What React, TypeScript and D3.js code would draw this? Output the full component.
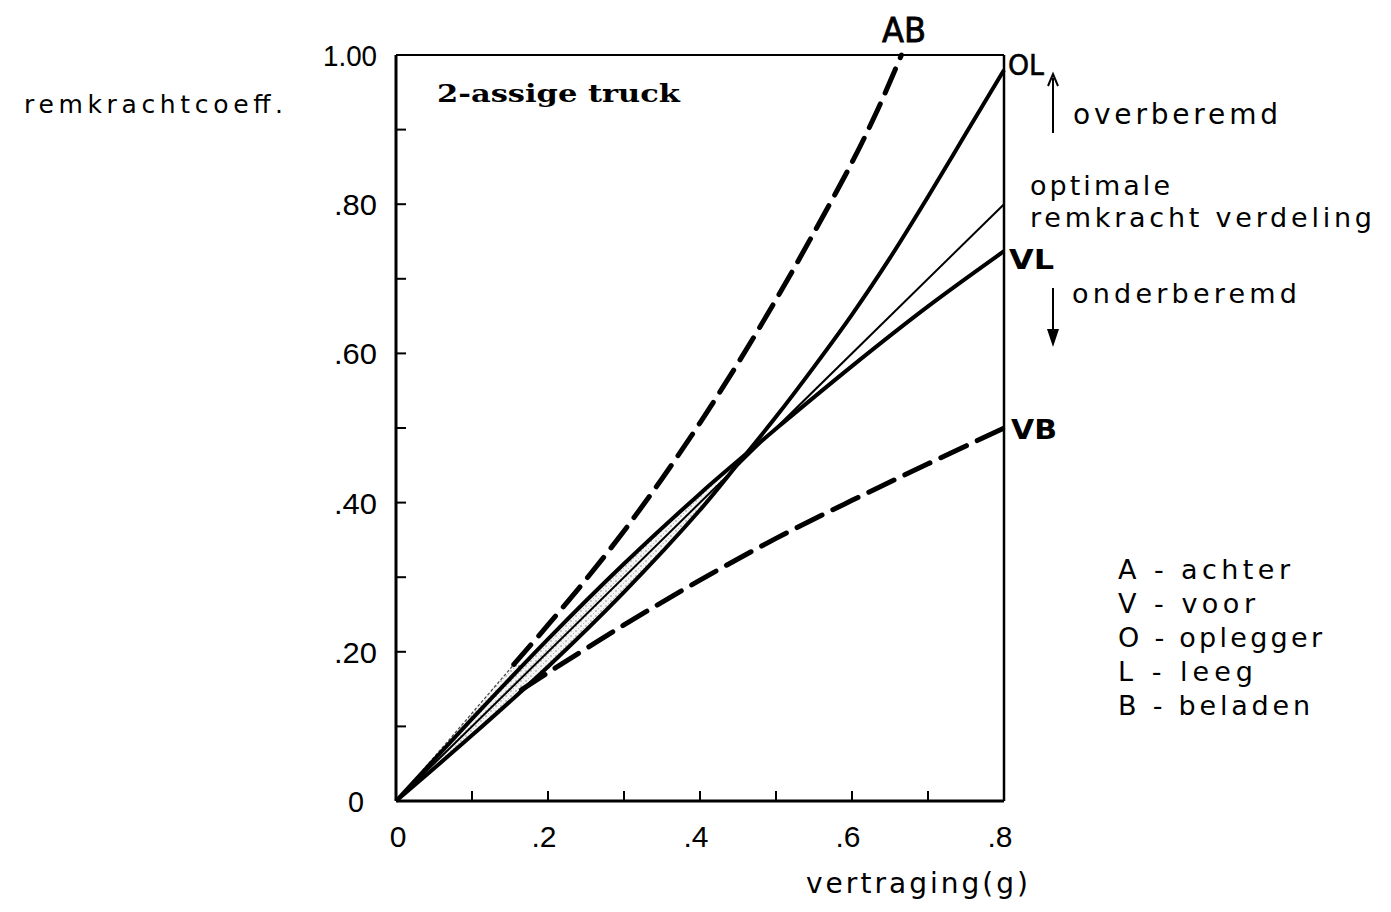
import React from "react";
import * as d3 from "d3";

// Braking-force coefficient versus deceleration for a two-axle truck
const xTicks = [0, 0.2, 0.4, 0.6, 0.8];
const xTickLabels = ["0", ".2", ".4", ".6", ".8"];
const yTicks = [0, 0.2, 0.4, 0.6, 0.8, 1.0];
const yTickLabels = ["0", ".20", ".40", ".60", ".80", "1.00"];
const yTickLabelWidths = [16, 43, 43, 43, 43, 54];
const minorTicksX = [0.1, 0.2, 0.3, 0.4, 0.5, 0.6, 0.7];
const minorTicksY = [0.1, 0.2, 0.3, 0.4, 0.5, 0.6, 0.7, 0.8, 0.9];

// optimal distribution (straight line)
const optimalX = [0, 0.8];
const optimalY = [0, 0.8];

// OL: trailer axle, empty
const olX = [0, 0.1, 0.2, 0.3, 0.4, 0.45, 0.5, 0.55, 0.6, 0.65, 0.7, 0.75, 0.8];
const olY = [0, 0.088, 0.18, 0.28, 0.39, 0.452, 0.515, 0.582, 0.652, 0.728, 0.81, 0.895, 0.98];

// VL: front axle, empty
const vlX = [0, 0.1, 0.2, 0.3, 0.4, 0.45, 0.5, 0.6, 0.7, 0.8];
const vlY = [0, 0.11, 0.217, 0.318, 0.412, 0.456, 0.499, 0.583, 0.663, 0.737];

// AB: rear axle, loaded (dashed)
const abX = [0.155, 0.2, 0.25, 0.3, 0.35, 0.4, 0.45, 0.5, 0.55, 0.6, 0.633, 0.665];
const abY = [0.183, 0.236, 0.297, 0.362, 0.432, 0.507, 0.587, 0.672, 0.762, 0.856, 0.925, 1.0];

// VB: front axle, loaded (dashed)
const vbX = [0.165, 0.2, 0.3, 0.4, 0.5, 0.6, 0.7, 0.8];
const vbY = [0.149, 0.172, 0.236, 0.296, 0.352, 0.403, 0.452, 0.5];

// shaded band edges near the origin
const bandUpperX = [0, 0.08, 0.155, 0.165, 0.2, 0.3, 0.4, 0.455];
const bandUpperY = [0, 0.094, 0.183, 0.18, 0.217, 0.318, 0.412, 0.46];
const bandLowerX = [0, 0.08, 0.165, 0.2, 0.3, 0.4, 0.455];
const bandLowerY = [0, 0.07, 0.149, 0.18, 0.28, 0.39, 0.46];

const legendRows = ["A - achter", "V - voor", "O - oplegger", "L - leeg", "B - beladen"];
const legendWidths = [172, 137, 204, 135, 192];

const zip = (xs: number[], ys: number[]) => xs.map((x, i) => [x, ys[i]] as [number, number]);

export default function App() {
  const x = d3.scaleLinear().domain([0, 0.8]).range([396, 1004]);
  const y = d3.scaleLinear().domain([0, 1]).range([801, 55]);

  const line = d3
    .line<[number, number]>()
    .x((d) => x(d[0]))
    .y((d) => y(d[1]))
    .curve(d3.curveCatmullRom.alpha(0.5));

  const upper = zip(bandUpperX, bandUpperY);
  const lower = zip(bandLowerX, bandLowerY).reverse();
  const bandPath =
    (d3.line<[number, number]>().x((d) => x(d[0])).y((d) => y(d[1])).curve(d3.curveLinear)(
      [...upper, ...lower]
    ) as string) + "Z";

  const font = "'DejaVu Sans', sans-serif";
  const numFont = "'Liberation Sans', Arial, sans-serif";

  return (
    <svg
      width={1391}
      height={912}
      style={{ position: "absolute", left: 0, top: 0, background: "#fff" }}
    >
      <defs>
        <pattern id="stipple" width="5" height="5" patternUnits="userSpaceOnUse">
          <rect width="5" height="5" fill="#f4f4f4" />
          <circle cx="1" cy="1" r="0.7" fill="#777" />
          <circle cx="3.5" cy="3.5" r="0.5" fill="#aaa" />
        </pattern>
      </defs>

      {/* shaded band */}
      <path d={bandPath} fill="url(#stipple)" stroke="#444" strokeWidth={1.2} strokeDasharray="3 2" />

      {/* frame */}
      <line x1={x(0)} y1={y(0)} x2={x(0)} y2={y(1)} stroke="#000" strokeWidth={3} />
      <line x1={x(0)} y1={y(0)} x2={x(0.8)} y2={y(0)} stroke="#000" strokeWidth={3} />
      <line x1={x(0)} y1={y(1)} x2={x(0.8)} y2={y(1)} stroke="#000" strokeWidth={2} />
      <line x1={x(0.8)} y1={y(1)} x2={x(0.8)} y2={y(0)} stroke="#000" strokeWidth={2.5} />

      {/* inward ticks */}
      {minorTicksX.map((t) => (
        <line key={"tx" + t} x1={x(t)} x2={x(t)} y1={y(0)} y2={y(0) - 10} stroke="#000" strokeWidth={2} />
      ))}
      {minorTicksY.map((t) => (
        <line key={"ty" + t} x1={x(0)} x2={x(0) + 10} y1={y(t)} y2={y(t)} stroke="#000" strokeWidth={2} />
      ))}

      {/* tick labels */}
      {yTicks.map((t, i) => (
        <text
          key={"yl" + t}
          x={t === 0 ? 364 : 377}
          y={y(t) + 11}
          textAnchor="end"
          fontFamily={numFont}
          fontSize={30}
          textLength={yTickLabelWidths[i]}
          lengthAdjust="spacingAndGlyphs"
          fill="#000"
        >
          {yTickLabels[i]}
        </text>
      ))}
      {xTicks.map((t, i) => (
        <text
          key={"xl" + t}
          x={x(t) + (t === 0 ? 2 : -4)}
          y={847}
          textAnchor="middle"
          fontFamily={numFont}
          fontSize={30}
          fill="#000"
        >
          {xTickLabels[i]}
        </text>
      ))}

      {/* curves */}
      <path d={line(zip(optimalX, optimalY)) as string} fill="none" stroke="#000" strokeWidth={2} />
      <path d={line(zip(olX, olY)) as string} fill="none" stroke="#000" strokeWidth={4} />
      <path d={line(zip(vlX, vlY)) as string} fill="none" stroke="#000" strokeWidth={4} />
      <path
        d={line(zip(abX, abY)) as string}
        fill="none"
        stroke="#000"
        strokeWidth={5}
        strokeDasharray="26 12"
        strokeLinecap="round"
      />
      <path
        d={line(zip(vbX, vbY)) as string}
        fill="none"
        stroke="#000"
        strokeWidth={5}
        strokeDasharray="28 12"
        strokeLinecap="round"
      />

      {/* titles */}
      <text
        x={437}
        y={102}
        fontFamily="'DejaVu Serif', 'Liberation Serif', serif"
        fontWeight="bold"
        fontSize={25}
        textLength={243}
        lengthAdjust="spacingAndGlyphs"
        fill="#000"
      >
        2-assige truck
      </text>
      <text x={24} y={113} fontFamily={font} fontSize={25} textLength={259} lengthAdjust="spacing" fill="#000">
        remkrachtcoeff.
      </text>
      <text x={806} y={893} fontFamily={font} fontSize={28} textLength={222} lengthAdjust="spacing" fill="#000">
        vertraging(g)
      </text>

      {/* curve labels */}
      <text
        x={882}
        y={42}
        fontFamily={font}
        fontSize={34}
        textLength={44}
        lengthAdjust="spacingAndGlyphs"
        fill="#000"
        stroke="#000"
        strokeWidth={0.8}
      >
        AB
      </text>
      <text
        x={1008}
        y={75}
        fontFamily={font}
        fontSize={29}
        textLength={36}
        lengthAdjust="spacingAndGlyphs"
        fill="#000"
        stroke="#000"
        strokeWidth={0.6}
      >
        OL
      </text>
      <text x={1009} y={269} fontFamily={font} fontWeight="bold" fontSize={27} textLength={45} lengthAdjust="spacingAndGlyphs" fill="#000">
        VL
      </text>
      <text x={1011} y={439} fontFamily={font} fontWeight="bold" fontSize={27} textLength={46} lengthAdjust="spacingAndGlyphs" fill="#000">
        VB
      </text>

      {/* over / under braked annotations */}
      <line x1={1053} y1={133} x2={1053} y2={78} stroke="#000" strokeWidth={2} />
      <path d="M1048,86 L1053,74 L1058,86" fill="none" stroke="#000" strokeWidth={2} />
      <text x={1073} y={124} fontFamily={font} fontSize={28} textLength={205} lengthAdjust="spacing" fill="#000">
        overberemd
      </text>
      <text x={1030} y={195} fontFamily={font} fontSize={27} textLength={140} lengthAdjust="spacing" fill="#000">
        optimale
      </text>
      <text x={1030} y={227} fontFamily={font} fontSize={27} textLength={342} lengthAdjust="spacing" fill="#000">
        remkracht verdeling
      </text>
      <text x={1072} y={303} fontFamily={font} fontSize={27} textLength={225} lengthAdjust="spacing" fill="#000">
        onderberemd
      </text>
      <line x1={1053} y1={288} x2={1053} y2={336} stroke="#000" strokeWidth={2} />
      <path d="M1047,329 L1053,347 L1059,329 Z" fill="#000" />

      {/* legend */}
      {legendRows.map((r, i) => (
        <text
          key={r}
          x={1118}
          y={579 + i * 34}
          fontFamily={font}
          fontSize={27}
          textLength={legendWidths[i]}
          lengthAdjust="spacing"
          fill="#000"
        >
          {r}
        </text>
      ))}
    </svg>
  );
}
